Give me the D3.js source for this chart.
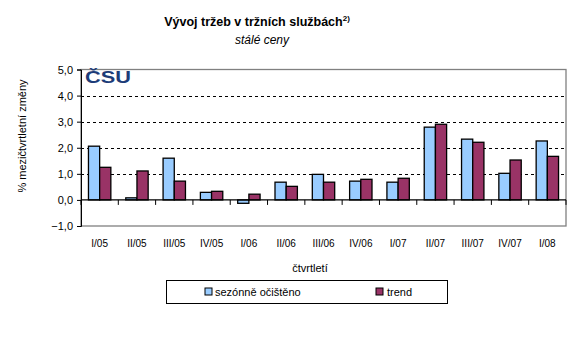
<!DOCTYPE html>
<html><head><meta charset="utf-8">
<script src="https://cdn.jsdelivr.net/npm/d3@7"></script>
<style>body{margin:0;background:#fff}svg{display:block}text{font-family:Arial,"Liberation Sans",sans-serif}</style>
</head><body><svg id="c" width="576" height="343"></svg>
<script>
const categories = ["I/05","II/05","III/05","IV/05","I/06","II/06","III/06","IV/06","I/07","II/07","III/07","IV/07","I/08"];
const sezonne = [2.06,0.08,1.60,0.29,-0.13,0.68,0.98,0.72,0.68,2.79,2.33,1.02,2.26];
const trend = [1.25,1.11,0.72,0.33,0.22,0.52,0.68,0.79,0.83,2.90,2.21,1.53,1.67];
const yTicks = [-1,0,1,2,3,4,5];
const seriesNames = ["sezónně očištěno","trend"];
const colors = ["#99CCFF","#993366"];

const svg = d3.select("#c");
const L=81,R=566,T=69.5,B=226;
const x = d3.scaleBand().domain(categories).range([L,R]).paddingInner(0).paddingOuter(0);
const y = d3.scaleLinear().domain([-1,5]).range([B,T]);
const groupW = x.bandwidth()*0.6;
const xs = d3.scaleBand().domain([0,1]).range([0,groupW]);

// plot frame
svg.append("rect").attr("x",L).attr("y",T).attr("width",R-L).attr("height",B-T)
  .attr("fill","none").attr("stroke","#808080").attr("stroke-width",1.3);
// grid
svg.append("g").selectAll("line").data([1,2,3,4]).join("line")
  .attr("x1",L).attr("x2",R).attr("y1",d=>Math.round(y(d))+0.5).attr("y2",d=>Math.round(y(d))+0.5)
  .attr("stroke","#000").attr("stroke-dasharray","3,3");

// bars
const series=[sezonne,trend];
series.forEach((vals,si)=>{
  svg.append("g").selectAll("rect").data(vals).join("rect")
   .attr("x",(d,i)=>x(categories[i])+(x.bandwidth()-groupW)/2+xs(si))
   .attr("y",d=>y(Math.max(0,d)))
   .attr("width",xs.bandwidth())
   .attr("height",d=>Math.abs(y(d)-y(0)))
   .attr("fill",colors[si]).attr("stroke","#000").attr("stroke-width",1.3);
});

// y axis
const ya = d3.axisLeft(y).tickValues(yTicks).tickSize(4).tickFormat(d=>d3.format(".1f")(d).replace(".",","));
const yg = svg.append("g").attr("transform",`translate(${L},0)`).call(ya);
yg.select(".domain").attr("stroke","#000");
yg.selectAll("text").attr("font-size",11).attr("fill","#000").attr("dx",-1);

// x axis at 0
const xg = svg.append("g");
xg.append("line").attr("x1",L).attr("x2",R).attr("y1",y(0)).attr("y2",y(0)).attr("stroke","#000").attr("stroke-width",1.3);
const bounds = categories.map(c=>x(c)).concat([R]);
xg.selectAll("line.t").data(bounds).join("line").attr("class","t")
  .attr("x1",d=>d).attr("x2",d=>d).attr("y1",y(0)).attr("y2",y(0)+5).attr("stroke","#000");
svg.append("g").selectAll("text").data(categories).join("text")
  .attr("x",d=>x(d)+x.bandwidth()/2).attr("y",247).attr("text-anchor","middle")
  .attr("font-size",10).attr("fill","#000").text(d=>d);

// titles
const t = svg.append("text").attr("x",257).attr("y",26).attr("text-anchor","middle").attr("font-size",12.5).attr("font-weight","bold");
t.append("tspan").text("Vývoj tržeb v tržních službách");
t.append("tspan").attr("font-size",8).attr("dy",-5).text("2)");
svg.append("text").attr("x",262).attr("y",44).attr("text-anchor","middle").attr("font-size",12).attr("font-style","italic").text("stálé ceny");
svg.append("text").attr("x",310).attr("y",272).attr("text-anchor","middle").attr("font-size",11).text("čtvrtletí");
svg.append("text").attr("transform","translate(26,136) rotate(-90)").attr("text-anchor","middle").attr("font-size",11).text("% mezičtvrtletní změny");

// logo
svg.append("text").attr("x",85).attr("y",83).attr("font-size",17).attr("font-weight",900)
  .attr("font-family","'DejaVu Sans',sans-serif").attr("fill","#1d3c78").attr("textLength",46).attr("lengthAdjust","spacingAndGlyphs").text("ČSU");

// legend
svg.append("rect").attr("x",166.5).attr("y",280.5).attr("width",281).attr("height",23).attr("fill","none").attr("stroke","#000");
const lx=[205,376], tx=[215,387];
seriesNames.forEach((n,i)=>{
  svg.append("rect").attr("x",lx[i]).attr("y",288).attr("width",7).attr("height",7).attr("fill",colors[i]).attr("stroke","#000");
  svg.append("text").attr("x",tx[i]).attr("y",296).attr("font-size",11).text(n);
});
</script></body></html>
